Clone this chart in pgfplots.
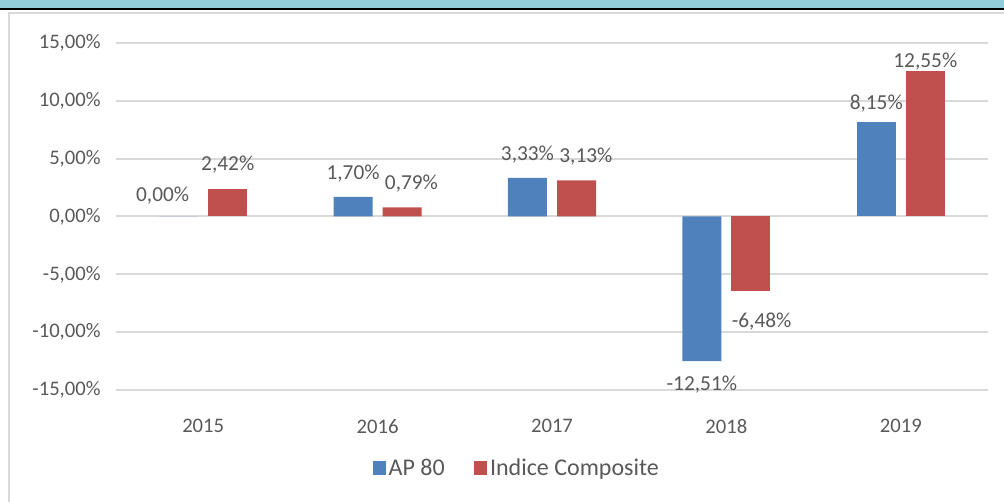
\documentclass[border=0pt]{standalone}
\usepackage{pgfplots}
\pgfplotsset{compat=1.18}
\usepackage{fontspec}
\setmainfont{Carlito}
\definecolor{apblue}{RGB}{79,129,189}
\definecolor{icred}{RGB}{192,80,77}
\definecolor{txtgray}{RGB}{89,89,89}
\definecolor{gridgray}{RGB}{217,217,217}
\definecolor{stripblue}{RGB}{146,205,220}
\begin{document}
\begin{tikzpicture}
\path[use as bounding box] (0pt,0pt) rectangle (753pt,376.5pt);
\fill[stripblue] (0pt,370.5pt) rectangle (753pt,376.5pt);
\fill[black] (0pt,369pt) rectangle (753pt,370.5pt);
\draw[gridgray,line width=1.5pt] (6.75pt,-5pt) -- (6.75pt,366.75pt) -- (760pt,366.75pt);
\begin{axis}[
  at={(87pt,84pt)}, anchor=south west,
  scale only axis, width=654pt, height=260.25pt,
  ybar, bar width=29.25pt,
  xmin=-0.5, xmax=4.5, ymin=-15, ymax=15,
  xtick={0,1,2,3,4}, xticklabels={2015,2016,2017,2018,2019},
  ytick={-15,-10,-5,0,5,10,15},
  ymajorgrids, grid style={gridgray,line width=1.5pt},
  axis line style={draw=none}, major tick style={draw=none},
  /pgf/number format/assume math mode=true,
  ticklabel style={font=\fontsize{15.5pt}{18pt}\selectfont, text=txtgray},
  yticklabel={\pgfmathprintnumber[fixed,fixed zerofill,precision=2,use comma]{\tick}\%},
  yticklabel style={xshift=-8pt},
  xticklabel style={yshift=-14pt},
  nodes near coords={\pgfmathprintnumber[fixed,fixed zerofill,precision=2,use comma,assume math mode=true]{\pgfplotspointmeta}\%},
  nodes near coords align={vertical},
  every node near coord/.append style={font=\fontsize{16pt}{18pt}\selectfont, text=txtgray, inner sep=11pt},
  legend style={at={(0.46,-0.225)}, anchor=center, draw=none, legend columns=2,
    font=\fontsize{18pt}{20pt}\selectfont, text=txtgray,
    /tikz/every even column/.append style={column sep=20pt}},
  legend image code/.code={\fill[#1] (0pt,-5pt) rectangle (10pt,5pt);},
]
\addplot[fill=apblue, draw=none, bar shift=-18.4pt] coordinates {(1,1.70) (2,3.33) (3,-12.51)};
\addplot[fill=icred, draw=none, bar shift=18.4pt] coordinates {(0,2.42)};
\addplot[fill=apblue, draw=none, bar shift=-18.4pt, forget plot,
  every node near coord/.append style={xshift=-12pt,yshift=-2pt}] coordinates {(0,0)};
\addplot[fill=apblue, draw=none, bar shift=-18.4pt, forget plot,
  every node near coord/.append style={yshift=-4pt}] coordinates {(4,8.15)};
\addplot[fill=icred, draw=none, bar shift=18.4pt, forget plot,
  every node near coord/.append style={xshift=7pt}] coordinates {(1,0.79) (2,3.13)};
\addplot[fill=icred, draw=none, bar shift=18.4pt, forget plot,
  every node near coord/.append style={xshift=8pt,yshift=-5pt}] coordinates {(3,-6.48)};
\addplot[fill=icred, draw=none, bar shift=18.4pt, forget plot,
  every node near coord/.append style={yshift=-10pt}] coordinates {(4,12.55)};
\legend{AP 80, Indice Composite}
\end{axis}
\end{tikzpicture}
\end{document}
